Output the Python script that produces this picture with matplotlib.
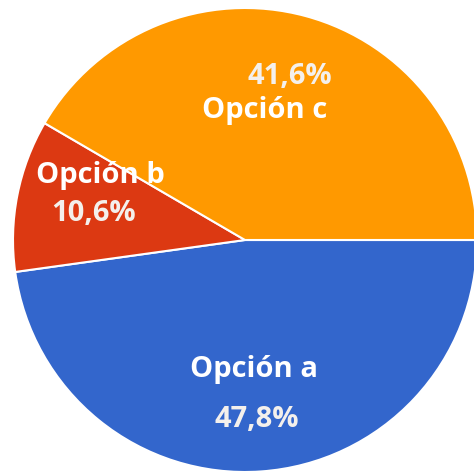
import matplotlib
matplotlib.use("Agg")
import matplotlib.pyplot as plt

# data
labels = ["Opción a", "Opción b", "Opción c"]
shares = [47.8, 10.6, 41.6]
pct_text = ["47,8%", "10,6%", "41,6%"]
colors = ["#3366cc", "#dc3912", "#ff9900"]

# where each label / percent sits (data coords, pie radius = 1)
name_pos = [(0.04, -0.56), (-0.625, 0.28), (0.085, 0.56)]
pct_pos = [(0.05, -0.775), (-0.655, 0.115), (0.195, 0.705)]

plt.rcParams['font.family'] = ['Open Sans', 'DejaVu Sans']

fig = plt.figure(figsize=(4.74, 4.75), dpi=100)
ax = fig.add_axes([13 / 474, 3 / 475, 464 / 474, 464 / 475])

ax.pie(shares, colors=colors, startangle=0, counterclock=False,
       radius=1, wedgeprops=dict(edgecolor="white", linewidth=1.5))

for name, (x, y) in zip(labels, name_pos):
    ax.text(x, y, name, ha="center", va="center", color="white",
            fontsize=21, fontweight="bold")
for pct, (x, y) in zip(pct_text, pct_pos):
    ax.text(x, y, pct, ha="center", va="center", color="#f4f0ec",
            fontsize=21, fontweight="bold")

ax.set_xlim(-1, 1)
ax.set_ylim(-1, 1)
ax.axis("off")

fig.savefig("out.png", dpi=100)
